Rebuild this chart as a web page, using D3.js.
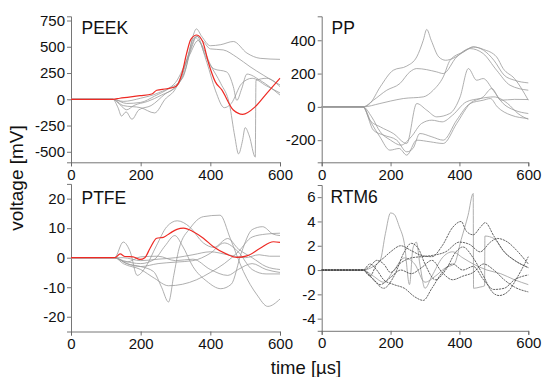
<!DOCTYPE html>
<html><head><meta charset="utf-8">
<script src="https://cdn.jsdelivr.net/npm/d3@7"></script>
<style>
body{margin:0;background:#fff;}
svg{display:block;}
text{font-family:"Liberation Sans",Arial,sans-serif;}
</style></head>
<body>
<svg id="c" width="542" height="377"></svg>
<script>
// ---------- DATA ----------
const xTicks = [0, 200, 400, 600];
const xMinor = [100, 300, 500];

const peekYTicks = [-500, -250, 0, 250, 500, 750];
const ppYTicks = [-200, 0, 200, 400];
const ptfeYTicks = [-20, -10, 0, 10, 20];
const rtmYTicks = [-4, -2, 0, 2, 4, 6];

const peekRed = [[0,0],[120,0],[140,10],[198,34],[232,50],[246,86],[275,100],[302,125],[318,238],[332,438],[344,571],[361,612],[378,549],[395,343],[414,168],[433,89],[466,-102],[493,-143],[529,-70],[562,57],[600,200]];
const peekGray = [
  [[0,0],[120,0],[140,-50],[160,-100],[180,-60],[220,-20],[260,40],[300,120],[330,300],[350,600],[360,670],[375,600],[400,510],[430,520],[466,550],[505,440],[543,390],[600,380]],
  [[0,0],[120,0],[135,-80],[145,-160],[158,-120],[175,-190],[195,-100],[230,-60],[270,50],[310,150],[340,450],[360,600],[380,550],[400,480],[437,470],[476,400],[514,310],[552,230],[600,136]],
  [[0,0],[120,0],[150,-60],[200,-80],[240,-130],[270,0],[300,100],[330,350],[355,590],[375,520],[400,330],[430,150],[455,-50],[470,-350],[481,-520],[492,-400],[500,-270],[512,-350],[529,-550],[531,180],[562,200],[600,120]],
  [[0,0],[120,0],[160,-40],[200,-30],[240,30],[280,100],[320,200],[345,480],[362,600],[385,420],[410,290],[447,260],[466,120],[476,-10],[490,100],[505,240],[543,180],[600,40]],
  [[0,0],[120,0],[150,-20],[200,10],[250,60],[300,160],[340,420],[365,560],[390,350],[415,80],[440,-80],[460,-40],[490,150],[520,200],[560,130],[600,60]]
];

const ppGray = [
  [[0,0],[120,0],[140,20],[170,120],[208,220],[247,245],[276,300],[295,400],[305,465],[318,400],[340,300],[360,280],[380,290],[420,340],[440,360],[470,340],[500,280],[530,190],[560,160],[600,144]],
  [[0,0],[120,0],[150,40],[189,100],[227,140],[256,210],[276,230],[334,210],[353,200],[392,300],[431,350],[469,320],[508,220],[547,130],[600,100]],
  [[0,0],[120,0],[169,20],[200,35],[237,50],[295,60],[324,100],[353,180],[373,280],[411,330],[440,360],[470,345],[508,300],[527,230],[560,170],[600,40]],
  [[0,0],[120,0],[140,-80],[170,-120],[208,-160],[247,-220],[276,20],[305,-20],[334,-60],[372,-40],[402,60],[426,230],[450,160],[469,170],[498,100],[527,20],[560,-20],[600,-40]],
  [[0,0],[120,0],[150,-140],[180,-170],[218,-200],[247,-270],[265,-250],[285,-160],[320,-180],[353,-200],[392,-80],[431,20],[469,40],[490,50],[510,0],[550,-50],[600,-70]],
  [[0,0],[120,0],[145,-100],[169,-180],[198,-260],[225,-250],[247,-290],[276,-200],[315,-210],[353,-220],[392,-100],[431,20],[469,60],[494,110],[520,40],[560,45],[600,44]],
  [[0,0],[120,0],[145,-60],[170,-150],[200,-200],[230,-230],[260,-180],[290,-100],[320,-80],[350,-90],[380,-50],[420,30],[460,50],[500,60],[540,20],[570,-40],[600,-75]]
];

const ptfeRed = [[0,0],[126,0],[141,1.3],[155,0.4],[178,0.3],[198,-0.6],[212,0],[227,3.2],[246,6.6],[265,6.9],[284,8.3],[304,9.6],[323,10],[351,8.8],[380,6.6],[409,3.7],[447,1.2],[476,0.1],[505,0.6],[543,3.2],[581,5.4],[600,5.2]];
const ptfeGray = [
  [[0,0],[125,0],[150,5.3],[170,2],[190,-6],[215,-3],[245,4],[275,10.5],[305,12.5],[340,10.5],[380,5],[410,3.5],[450,6.5],[480,3],[520,0],[560,-3],[600,-4]],
  [[0,0],[125,0],[160,-2],[200,-3],[237,-4.7],[260,-10],[280,-15],[295,-6],[310,3],[342,10],[380,13.9],[428,14.4],[457,6.6],[495,-4.7],[534,-12.6],[565,-16.5],[600,-14]],
  [[0,0],[125,0],[150,-1],[200,-2],[240,-0.5],[270,4],[298,7.5],[320,4],[350,-3],[390,-8],[430,-10.5],[460,-9],[490,2],[520,9.5],[550,10.5],[580,8],[600,7.5]],
  [[0,0],[125,0],[150,-2],[200,-4],[240,-7],[280,-9.5],[320,-9],[360,-7.5],[400,-5],[440,-2],[480,2],[520,7],[560,8],[600,8.3]],
  [[0,0],[125,0],[160,-1.5],[200,0.3],[250,0.5],[300,-1],[350,-0.5],[400,-4],[450,-6],[480,-4],[520,-2],[560,-4],[600,-5]],
  [[0,0],[125,0],[160,-2],[200,-3],[250,-2],[300,-1.5],[350,-1],[400,1.5],[440,5],[480,2],[520,-4],[560,-5.5],[600,-5.5]],
  [[0,0],[125,0],[150,0],[200,-1],[250,-0.5],[300,0],[350,1],[400,2],[450,1],[500,0],[540,1],[570,0.5],[600,0.5]]
];

const rtmLight = [
  [[0,0],[120,0],[150,0.3],[170,0.8],[185,3],[200,4.7],[210,4.6],[225,3.6],[240,2.2],[255,-1.2],[265,1.8],[275,2.3],[285,0.5],[300,-1.5],[320,-0.5],[350,1],[380,1.5],[410,1],[440,0.5],[480,0],[520,-0.3],[560,-0.8],[600,-1.2]],
  [[0,0],[120,0],[150,-0.5],[180,-1],[210,0],[240,1],[270,0.5],[300,-1],[330,-0.5],[360,0.2],[385,0.5],[405,2.5],[425,4.5],[440,6.3],[441,-1.5],[460,-1.4],[473,-1.3],[474,2.8],[500,2.6],[530,1.5],[560,0.8],[600,0.2]]
];
const rtmDark = [
  [[0,0],[120,0],[140,-0.5],[160,0.5],[180,1],[200,1.5],[230,2],[260,1.6],[290,1.2],[320,1.1],[350,2],[380,3.5],[405,4],[420,3.2],[440,2.9],[460,3.5],[475,3.9],[500,2.8],[530,1.5],[560,0.8],[600,0.2]],
  [[0,0],[120,0],[140,0.3],[160,0.8],[180,0.5],[200,-0.2],[230,0.6],[260,1],[290,1.1],[320,1.2],[360,1.5],[400,2.3],[430,2.1],[460,1.5],[490,2.3],[510,2.6],[540,2.3],[570,1.5],[600,0.5]],
  [[0,0],[120,0],[140,0.5],[160,0],[180,-0.8],[210,-1.2],[240,-1.5],[270,-2.2],[295,-2.5],[320,-1.5],[350,-0.2],[380,0.5],[410,0],[440,0.3],[470,-0.8],[500,-1.6],[530,-1.5],[560,-0.8],[600,-0.4]],
  [[0,0],[120,0],[150,-0.8],[180,-1.5],[210,-0.5],[240,1.5],[260,2.2],[280,1.8],[300,0.5],[330,-0.8],[360,0],[390,1.5],[410,1.9],[440,1],[470,-0.5],[495,-1.8],[515,-2.1],[540,-1.8],[570,-0.5],[600,1.1]],
  [[0,0],[120,0],[145,-0.6],[170,-1.2],[200,-0.6],[230,0],[260,-0.3],[290,0.2],[320,0.8],[350,-0.2],[380,-0.8],[410,-0.5],[440,-0.2],[470,0.5],[500,0],[530,-0.8],[560,-1.4],[600,-1.8]]
];

// ---------- LAYOUT ----------
const panels = [
  {label:"PEEK", xr:[71,280], yd:[-600,790], yr:[162.3,16.3], yt:peekYTicks, ym:125, gray:peekGray, red:peekRed, lx:81.5, ly:33.5},
  {label:"PP", xr:[321.7,528.3], yd:[-333,544], yr:[162.3,16.3], yt:ppYTicks, ym:100, gray:ppGray, red:null, lx:331.5, ly:33.5},
  {label:"PTFE", xr:[71,280], yd:[-25,25], yr:[331.5,183.9], yt:ptfeYTicks, ym:5, gray:ptfeGray, red:ptfeRed, lx:81.5, ly:204},
  {label:"RTM6", xr:[321.7,528.3], yd:[-5,7], yr:[330.8,185], yt:rtmYTicks, ym:1, gray:rtmLight, dark:rtmDark, red:null, lx:330.5, ly:203}
];

const svg = d3.select("#c");
const axisCol = "#666";

panels.forEach(p => {
  const x = d3.scaleLinear().domain([0,600]).range(p.xr);
  const y = d3.scaleLinear().domain(p.yd).range(p.yr);
  const line = d3.line().x(d=>x(d[0])).y(d=>y(d[1])).curve(d3.curveMonotoneX);
  const g = svg.append("g");

  const minorY = d3.range(Math.ceil(p.yd[0]/p.ym)*p.ym, p.yd[1]+1e-9, p.ym).filter(v=>!p.yt.includes(v));
  const yMinorAxis = d3.axisLeft(y).tickValues(minorY).tickSize(2).tickFormat("");
  const yAxis = d3.axisLeft(y).tickValues(p.yt).tickSize(4).tickPadding(2).tickFormat(d=>String(d));
  const xMinorAxis = d3.axisBottom(x).tickValues(xMinor).tickSize(2).tickFormat("");
  const xAxis = d3.axisBottom(x).tickValues(xTicks).tickSize(4).tickPadding(3).tickFormat(d=>String(d));

  const ax = g.append("g").attr("transform",`translate(${p.xr[0]},0)`);
  ax.call(yMinorAxis); ax.call(yAxis);
  const bx = g.append("g").attr("transform",`translate(0,${p.yr[0]})`);
  bx.call(xMinorAxis); bx.call(xAxis);
  [ax,bx].forEach(a=>{
    a.selectAll(".domain").attr("stroke",axisCol).attr("stroke-width",0.9);
    a.selectAll(".tick line").attr("stroke",axisCol).attr("stroke-width",0.9);
    a.selectAll("text").attr("fill","#111").style("font-size","15px").style("font-family","'Liberation Sans',Arial,sans-serif");
  });

  p.gray.forEach(s => g.append("path").attr("d",line(s)).attr("fill","none")
      .attr("stroke","#9a9a9a").attr("stroke-width",0.8).attr("stroke-linejoin","round"));
  if (p.dark) p.dark.forEach(s => g.append("path").attr("d",line(s)).attr("fill","none")
      .attr("stroke","#4a4a4a").attr("stroke-width",0.85).attr("stroke-dasharray","2.2,0.8"));
  if (p.red) g.append("path").attr("d",line(p.red)).attr("fill","none")
      .attr("stroke","#ee2a24").attr("stroke-width",1.2);

  g.append("text").attr("x",p.lx).attr("y",p.ly).text(p.label)
    .style("font-size","17.5px").attr("fill","#111");
});

svg.append("text").attr("x",306).attr("y",374).attr("text-anchor","middle")
  .style("font-size","18.5px").attr("fill","#111").text("time [µs]");
svg.append("text").attr("transform","translate(22.5,178) rotate(-90)").attr("text-anchor","middle")
  .style("font-size","19px").attr("fill","#111").text("voltage [mV]");
</script>
</body></html>
